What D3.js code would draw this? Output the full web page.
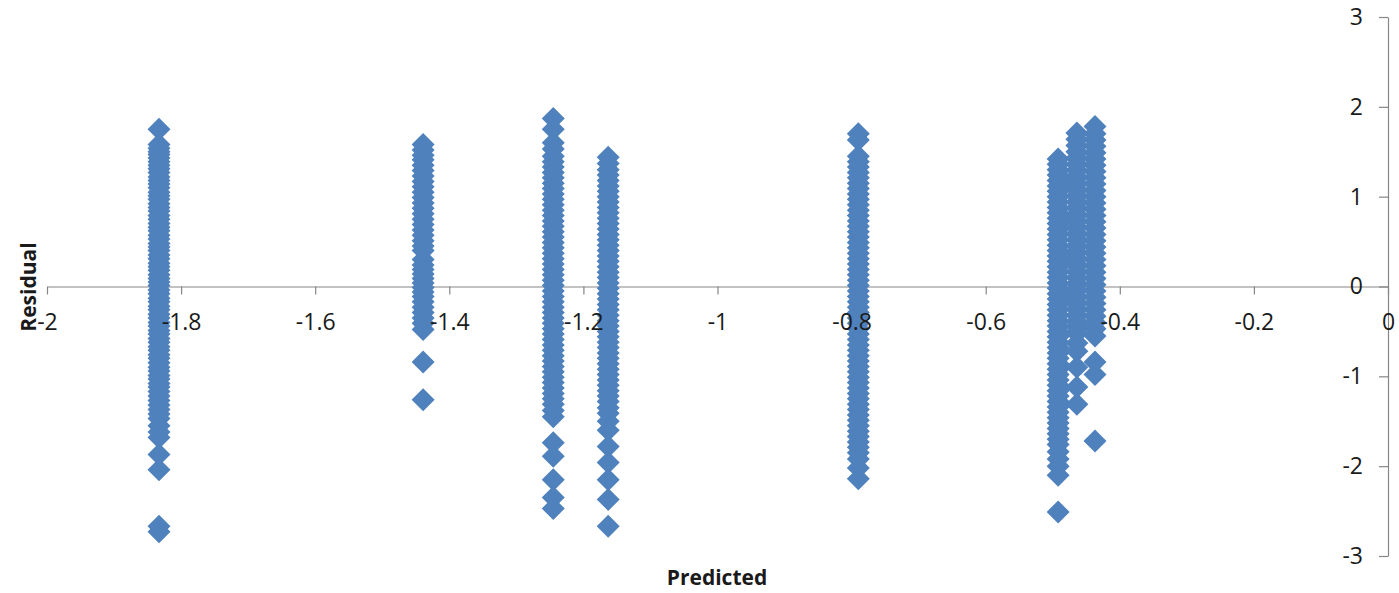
<!DOCTYPE html>
<html>
<head>
<meta charset="utf-8">
<script src="https://cdn.jsdelivr.net/npm/d3@7"></script>
<style>
  html, body { margin: 0; padding: 0; background: #ffffff; }
  svg { display: block; }
  .tick text { font-family: "Open Sans", "Noto Sans", sans-serif; }
</style>
</head>
<body>
<svg id="chart" width="1399" height="593"></svg>
<script>
// Predicted levels (x) and the residuals observed at each level (y)
const predictedLevels = [-1.833, -1.439, -1.245, -1.163, -0.790, -0.492, -0.464, -0.437];

const residualsA = [1.75, 1.58, 1.54, 1.5, 1.47, 1.43, 1.39, 1.35, 1.31, 1.27, 1.22, 1.18, 1.14, 1.1, 1.05, 1.01,
  0.97, 0.92, 0.88, 0.84, 0.79, 0.75, 0.7, 0.66, 0.62, 0.57, 0.53, 0.48, 0.44, 0.4, 0.35, 0.31, 0.26, 0.22,
  0.18, 0.13, 0.09, 0.05, 0.01, -0.04, -0.08, -0.13, -0.17, -0.22, -0.26, -0.31, -0.35, -0.4, -0.44, -0.49,
  -0.53, -0.58, -0.62, -0.67, -0.71, -0.76, -0.8, -0.85, -0.9, -0.94, -0.99, -1.03, -1.08, -1.12, -1.17,
  -1.22, -1.27, -1.32, -1.37, -1.42, -1.47, -1.55, -1.62, -1.68, -1.87, -2.04, -2.67, -2.73];

const residualsB = [1.58, 1.52, 1.46, 1.41, 1.35, 1.29, 1.23, 1.17, 1.11, 1.05, 0.99, 0.93, 0.87, 0.81, 0.75,
  0.69, 0.63, 0.57, 0.51, 0.45, 0.4, 0.3, 0.24, 0.19, 0.14, 0.09, 0.04, -0.01, -0.06, -0.11, -0.17, -0.23,
  -0.29, -0.35, -0.41, -0.48, -0.84, -1.26];

const residualsC = [1.87, 1.75, 1.6, 1.53, 1.45, 1.39, 1.33, 1.27, 1.21, 1.15, 1.09, 1.03, 0.97, 0.91, 0.85,
  0.79, 0.73, 0.67, 0.61, 0.55, 0.49, 0.43, 0.37, 0.31, 0.25, 0.19, 0.13, 0.07, 0.01, -0.05, -0.11, -0.17,
  -0.23, -0.29, -0.35, -0.41, -0.47, -0.53, -0.59, -0.65, -0.71, -0.77, -0.83, -0.89, -0.95, -1.01, -1.07,
  -1.13, -1.19, -1.25, -1.31, -1.38, -1.45, -1.74, -1.89, -2.15, -2.35, -2.47];

const residualsD = [1.44, 1.37, 1.3, 1.24, 1.18, 1.12, 1.06, 1.0, 0.94, 0.88, 0.82, 0.76, 0.7, 0.64, 0.58, 0.52,
  0.46, 0.4, 0.34, 0.28, 0.22, 0.16, 0.1, 0.04, -0.02, -0.08, -0.14, -0.2, -0.26, -0.32, -0.38, -0.44, -0.5,
  -0.56, -0.62, -0.68, -0.74, -0.8, -0.86, -0.92, -0.98, -1.04, -1.1, -1.16, -1.22, -1.28, -1.35, -1.41,
  -1.5, -1.6, -1.78, -1.96, -2.15, -2.37, -2.67];

const residualsE = [1.7, 1.63, 1.45, 1.39, 1.33, 1.27, 1.21, 1.15, 1.09, 1.03, 0.97, 0.91, 0.85, 0.79, 0.73,
  0.67, 0.61, 0.55, 0.49, 0.43, 0.37, 0.31, 0.25, 0.19, 0.13, 0.07, 0.01, -0.05, -0.11, -0.17, -0.23, -0.29,
  -0.35, -0.41, -0.47, -0.53, -0.59, -0.65, -0.71, -0.77, -0.83, -0.89, -0.95, -1.01, -1.07, -1.13, -1.19,
  -1.25, -1.31, -1.37, -1.43, -1.49, -1.55, -1.61, -1.67, -1.73, -1.79, -1.85, -1.92, -2.02, -2.14];

const residualsF = [1.42, 1.36, 1.3, 1.24, 1.18, 1.12, 1.06, 1.0, 0.94, 0.88, 0.82, 0.76, 0.7, 0.64, 0.58, 0.52,
  0.46, 0.4, 0.34, 0.28, 0.22, 0.16, 0.1, 0.04, -0.02, -0.08, -0.14, -0.2, -0.26, -0.32, -0.38, -0.44, -0.5,
  -0.56, -0.62, -0.68, -0.74, -0.8, -0.86, -0.92, -0.98, -1.04, -1.1, -1.16, -1.22, -1.28, -1.34, -1.4, -1.46,
  -1.52, -1.58, -1.64, -1.7, -1.76, -1.84, -1.92, -2.0, -2.1, -2.51];

const residualsG = [1.71, 1.64, 1.57, 1.5, 1.43, 1.36, 1.29, 1.22, 1.15, 1.08, 1.01, 0.94, 0.87, 0.8, 0.73,
  0.66, 0.59, 0.52, 0.45, 0.38, 0.31, 0.24, 0.17, 0.1, 0.03, -0.04, -0.11, -0.18, -0.25, -0.32, -0.39, -0.45,
  -0.52, -0.63, -0.72, -0.9, -1.12, -1.31];

const residualsH = [1.78, 1.7, 1.63, 1.56, 1.49, 1.42, 1.35, 1.28, 1.21, 1.14, 1.07, 1.0, 0.93, 0.86, 0.79,
  0.72, 0.65, 0.58, 0.51, 0.44, 0.37, 0.3, 0.23, 0.16, 0.09, 0.02, -0.05, -0.12, -0.19, -0.26, -0.33, -0.4,
  -0.47, -0.55, -0.84, -0.98, -1.72];

const residualGroups = [residualsA, residualsB, residualsC, residualsD, residualsE, residualsF, residualsG, residualsH];

const xTickValues = [-2, -1.8, -1.6, -1.4, -1.2, -1, -0.8, -0.6, -0.4, -0.2, 0];
const xTickLabels = ["-2", "-1.8", "-1.6", "-1.4", "-1.2", "-1", "-0.8", "-0.6", "-0.4", "-0.2", "0"];
const yTickValues = [-3, -2, -1, 0, 1, 2, 3];
const yTickLabels = ["-3", "-2", "-1", "0", "1", "2", "3"];

const xTitle = "Predicted";
const yTitle = "Residual";

// Flatten into (predicted, residual) points
const points = [];
residualGroups.forEach((group, i) => {
  group.forEach(r => points.push({ predicted: predictedLevels[i], residual: r }));
});

const svg = d3.select("#chart");
const x = d3.scaleLinear().domain([-2, 0]).range([47, 1388]);
const y = d3.scaleLinear().domain([-3, 3]).range([556, 17]);

const axisColor = "#868686";
const textColor = "#1a1a1a";
const fontSize = 23;

const xAxis = d3.axisBottom(x)
  .tickValues(xTickValues)
  .tickFormat((d, i) => xTickLabels[i])
  .tickSize(8)
  .tickSizeOuter(0)
  .tickPadding(19);

const yAxis = d3.axisLeft(y)
  .tickValues(yTickValues)
  .tickFormat((d, i) => yTickLabels[i])
  .tickSize(9)
  .tickSizeOuter(0)
  .tickPadding(16);

// Axis lines and tick marks (beneath the markers)
const lineLayer = svg.append("g");
const xLines = lineLayer.append("g").attr("transform", `translate(0,${y(0)})`).call(xAxis);
const yLines = lineLayer.append("g").attr("transform", `translate(${x(0)},0)`).call(yAxis);
[xLines, yLines].forEach(g => {
  g.selectAll("text").remove();
  g.selectAll("path, line").attr("stroke", axisColor).attr("stroke-width", 1.2);
});

// Diamond markers
const diamond = {
  draw(ctx, size) {
    const r = Math.sqrt(size / 2);
    ctx.moveTo(0, -r);
    ctx.lineTo(r, 0);
    ctx.lineTo(0, r);
    ctx.lineTo(-r, 0);
    ctx.closePath();
  }
};
const markerR = 11.5;
const symbolPath = d3.symbol().type(diamond).size(2 * markerR * markerR)();

svg.append("g")
  .selectAll("path")
  .data(points)
  .join("path")
  .attr("d", symbolPath)
  .attr("transform", d => `translate(${x(d.predicted)},${y(d.residual)})`)
  .attr("fill", "#4f81bd");

// Tick labels on top
const labelLayer = svg.append("g");
const xLabels = labelLayer.append("g").attr("transform", `translate(0,${y(0)})`).call(xAxis);
const yLabels = labelLayer.append("g").attr("transform", `translate(${x(0)},0)`).call(yAxis);
[xLabels, yLabels].forEach(g => {
  g.selectAll("path, line").remove();
  g.attr("font-size", fontSize).attr("font-family", null);
  g.selectAll("text").attr("fill", textColor);
});

// Axis titles
svg.append("text")
  .attr("x", 717)
  .attr("y", 585)
  .attr("text-anchor", "middle")
  .attr("font-family", "'Open Sans', 'Noto Sans', sans-serif")
  .attr("font-weight", "bold")
  .attr("font-size", 21)
  .attr("fill", textColor)
  .text(xTitle);

svg.append("text")
  .attr("transform", "translate(36,287) rotate(-90)")
  .attr("text-anchor", "middle")
  .attr("font-family", "'Open Sans', 'Noto Sans', sans-serif")
  .attr("font-weight", "bold")
  .attr("font-size", 21)
  .attr("fill", textColor)
  .text(yTitle);
</script>
</body>
</html>
